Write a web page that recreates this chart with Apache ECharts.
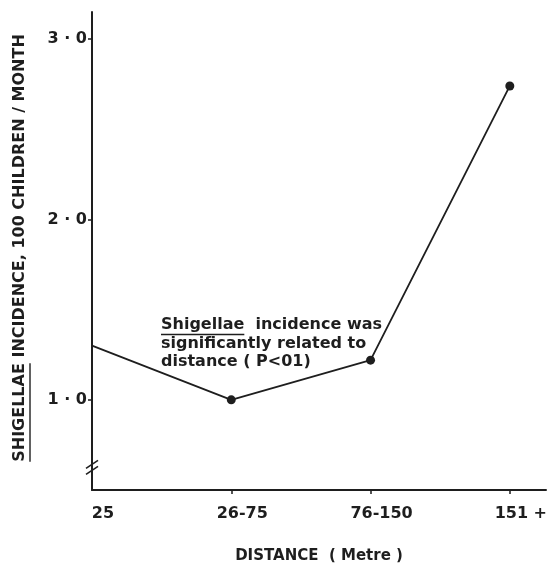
<!DOCTYPE html>
<html>
<head>
<meta charset="utf-8">
<script src="https://cdn.jsdelivr.net/npm/echarts@6/dist/echarts.min.js"></script>
<style>
html,body{margin:0;padding:0;background:#fff;}
#c{width:550px;height:569px;}
</style>
</head>
<body>
<div id="c"></div>
<script>
// ---- data ----
const categories = ['25', '26-75', '76-150', '151 +'];
const incidence = [1.30, 1.00, 1.22, 2.74];
const yTickValues = [1, 2, 3];
const yTickLabels = ['1 · 0', '2 · 0', '3 · 0'];
const yAxisTitleUnderlined = 'SHIGELLAE';
const yAxisTitleRest = ' INCIDENCE, 100 CHILDREN / MONTH';
const xAxisTitle = 'DISTANCE  ( Metre )';
const noteLines = ['Shigellae  incidence was', 'significantly related to', 'distance ( P<01)'];

const ink = '#1e1e1e';
const font = 'DejaVu Sans';

const chart = echarts.init(document.getElementById('c'), null, {renderer: 'canvas'});

const seriesData = incidence.map((v, i) => {
  const item = {value: [i, v]};
  if (i === 0) item.symbol = 'none';
  return item;
});

chart.setOption({
  animation: false,
  backgroundColor: '#ffffff',
  grid: {left: 92, right: 0, top: 12, bottom: 71, containLabel: false},
  xAxis: {
    type: 'value',
    min: 0, max: 3.26,
    splitLine: {show: false},
    axisLine: {lineStyle: {color: ink, width: 2}},
    axisTick: {show: true, customValues: [1, 2, 3], length: 4, lineStyle: {color: ink, width: 1.5}},
    axisLabel: {
      customValues: [0, 1, 2, 3],
      formatter: v => categories[Math.round(v)],
      color: ink, fontFamily: font, fontSize: 16, fontWeight: 'bold',
      margin: 16, padding: [0, 0, 0, 22]
    },
    name: xAxisTitle,
    nameLocation: 'middle',
    nameGap: 59,
    nameTextStyle: {color: ink, fontFamily: font, fontSize: 15, fontWeight: 'bold', padding: [0, 0, 0, 0]}
  },
  yAxis: {
    type: 'value',
    min: 0.5, max: 3.15,
    splitLine: {show: false},
    axisLine: {lineStyle: {color: ink, width: 2}},
    axisTick: {show: true, customValues: yTickValues, length: 4, lineStyle: {color: ink, width: 1.5}},
    axisLabel: {
      customValues: yTickValues,
      formatter: v => yTickLabels[yTickValues.indexOf(Math.round(v))],
      color: ink, fontFamily: font, fontSize: 16, fontWeight: 'bold', margin: 5
    }
  },
  series: [{
    type: 'line',
    data: seriesData,
    symbol: 'circle',
    symbolSize: 9,
    itemStyle: {color: ink},
    lineStyle: {color: ink, width: 1.8},
    clip: false
  }]
});

// decorations: axis title with underline, annotation, axis break mark
const y0 = chart.convertToPixel({gridIndex: 0}, [0, 0.625]);
const axisX = y0[0], breakY = y0[1];

const measure = (txt, f) => {
  const ctx = document.createElement('canvas').getContext('2d');
  ctx.font = f;
  return ctx.measureText(txt).width;
};
const titleFont = 'bold 16px "' + font + '"';
const wU = measure(yAxisTitleUnderlined, titleFont);
const wAll = measure(yAxisTitleUnderlined + yAxisTitleRest, titleFont);

const noteFont = 'bold 16px "' + font + '"';
const wNoteU = measure('Shigellae', noteFont);

chart.setOption({
  graphic: [
    {
      type: 'group', x: 20, y: 248, rotation: Math.PI / 2,
      children: [
        {type: 'text', x: 0, y: 0,
          style: {text: yAxisTitleUnderlined + yAxisTitleRest, font: titleFont, fill: ink,
            align: 'center', verticalAlign: 'middle'}},
        {type: 'line', shape: {x1: -wAll / 2, y1: 10, x2: -wAll / 2 + wU, y2: 10},
          style: {stroke: ink, lineWidth: 1.4}}
      ]
    },
    {
      type: 'group', x: 161, y: 325,
      children: [
        {type: 'text', x: 0, y: 0, style: {text: noteLines[0], font: noteFont, fill: ink, verticalAlign: 'middle'}},
        {type: 'text', x: 0, y: 18.5, style: {text: noteLines[1], font: noteFont, fill: ink, verticalAlign: 'middle'}},
        {type: 'text', x: 0, y: 37, style: {text: noteLines[2], font: noteFont, fill: ink, verticalAlign: 'middle'}},
        {type: 'line', shape: {x1: 0, y1: 9.5, x2: wNoteU, y2: 9.5}, style: {stroke: ink, lineWidth: 1.3}}
      ]
    },
    {
      type: 'group', x: axisX, y: breakY,
      children: [
        {type: 'rect', shape: {x: -3, y: -3, width: 6, height: 6}, style: {fill: '#fff'}},
        {type: 'line', shape: {x1: -6, y1: 1, x2: 6, y2: -7}, style: {stroke: ink, lineWidth: 1.5}},
        {type: 'line', shape: {x1: -6, y1: 7, x2: 6, y2: -1}, style: {stroke: ink, lineWidth: 1.5}}
      ]
    }
  ]
});
</script>
</body>
</html>
